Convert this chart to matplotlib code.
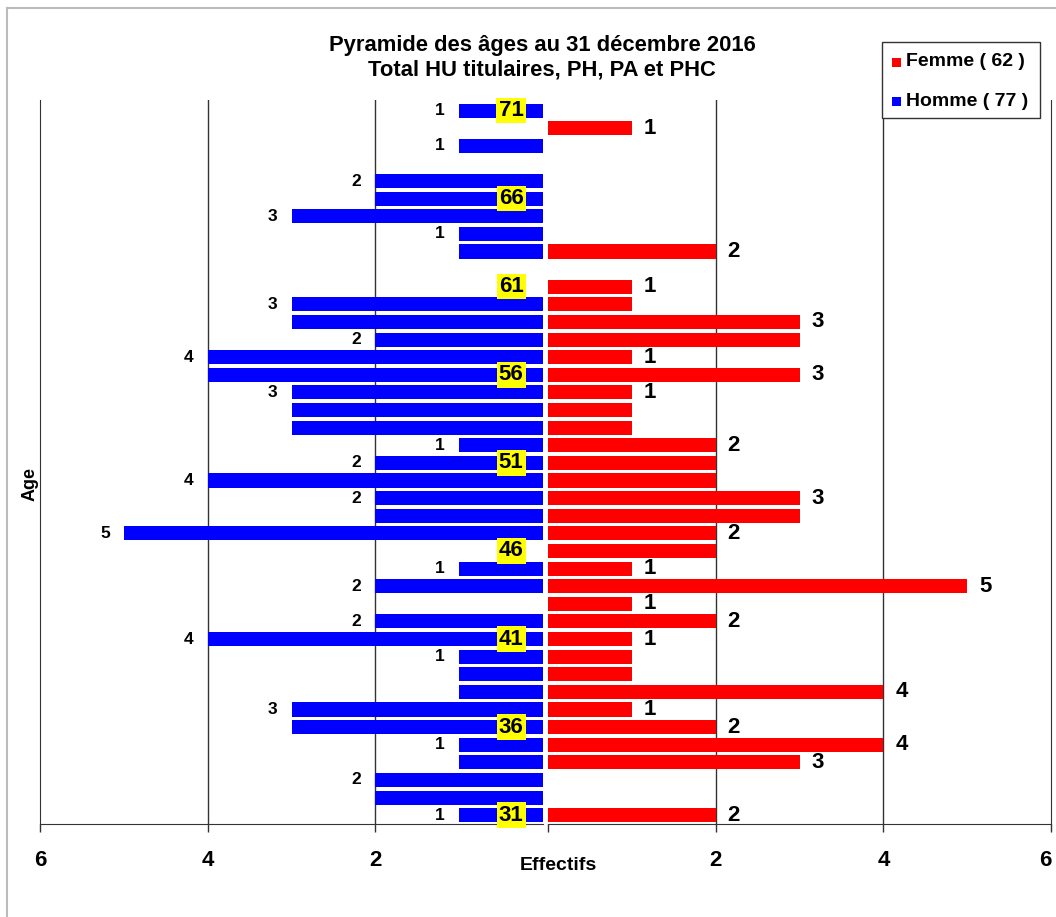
import matplotlib
matplotlib.use("Agg")
import matplotlib.pyplot as plt
from matplotlib.patches import Rectangle
from matplotlib.lines import Line2D

plt.rcParams['font.family'] = ['Liberation Sans', 'DejaVu Sans']
plt.rcParams['font.weight'] = 'bold'

# ---- data ----
ages = list(range(31, 72))
homme = [1, 2, 2, 1, 1, 3, 3, 1, 1, 1, 4, 2, 0, 2, 1, 0, 5, 2, 2, 4, 2, 1,
         3, 3, 3, 4, 4, 2, 3, 3, 0, 0, 1, 1, 3, 2, 2, 0, 1, 0, 1]
femme = [2, 0, 0, 3, 4, 2, 1, 4, 1, 1, 1, 2, 1, 5, 1, 2, 2, 3, 3, 2, 2, 2,
         1, 1, 1, 3, 1, 3, 3, 1, 1, 0, 2, 0, 0, 0, 0, 0, 0, 1, 0]
age_marks = [31, 36, 41, 46, 51, 56, 61, 66, 71]
title_lines = ["Pyramide des âges au 31 décembre 2016",
               "Total HU titulaires, PH, PA et PHC"]
legend_labels = ["Femme ( 62 )", "Homme ( 77 )"]
tick_vals = [2, 4, 6]

BLUE = '#0000FF'
RED = '#FF0000'
GRID = '#333333'

W, H = 1056, 917
fig = plt.figure(figsize=(W / 100, H / 100), dpi=100)


def fx(px):
    return px / W


def fy(py):
    return 1 - py / H


axL = fig.add_axes([fx(40), fy(824), 503 / W, 724 / H])
axR = fig.add_axes([fx(548), fy(824), 503 / W, 724 / H])

for ax in (axL, axR):
    ax.set_ylim(30.5, 71.6)
    ax.set_yticks([])
    for v in (2, 4):
        ax.axvline(v, color=GRID, lw=1, zorder=0)
    ax.spines['top'].set_visible(False)
    ax.spines['bottom'].set_color(GRID)
    ax.tick_params(axis='x', direction='out', length=6, width=1,
                   color=GRID, labelsize=16, pad=13)

axL.set_xlim(6, 0)
axR.set_xlim(0, 6)
axL.spines['right'].set_visible(False)
axL.spines['left'].set_color(GRID)
axR.spines['left'].set_visible(False)
axR.spines['right'].set_color(GRID)

axL.set_xticks(tick_vals)
axL.set_xticklabels([str(v) for v in tick_vals])
axR.set_xticks([0] + tick_vals)
axR.set_xticklabels([''] + [str(v) for v in tick_vals])
for lab in axL.get_xticklabels() + axR.get_xticklabels():
    lab.set_fontweight('bold')
axR.get_xticklabels()[-1].set_horizontalalignment('right')

axL.barh(ages, homme, height=0.8, color=BLUE, zorder=2)
axR.barh(ages, femme, height=0.8, color=RED, zorder=2)

# value labels where value differs from the row above
for i, a in enumerate(ages):
    above_h = homme[i + 1] if i + 1 < len(ages) else 0
    above_f = femme[i + 1] if i + 1 < len(ages) else 0
    if homme[i] and homme[i] != above_h:
        axL.annotate(str(homme[i]), (homme[i], a), xytext=(-19, 0),
                     textcoords='offset pixels', ha='center', va='center',
                     fontsize=12.5, fontweight='bold')
    if femme[i] and femme[i] != above_f:
        axR.annotate(str(femme[i]), (femme[i], a), xytext=(18, 0),
                     textcoords='offset pixels', ha='center', va='center',
                     fontsize=16, fontweight='bold')

for a in age_marks:
    axL.text(0.38, a, str(a), ha='center', va='center', fontsize=16,
             fontweight='bold', zorder=5,
             bbox=dict(boxstyle='square,pad=0.1', fc='#FFFF00', ec='none'))

# titles / axis labels
fig.text(fx(542), fy(45), title_lines[0], ha='center', va='center',
         fontsize=15.8, fontweight='bold')
fig.text(fx(542), fy(70), title_lines[1], ha='center', va='center',
         fontsize=15.8, fontweight='bold')
fig.text(fx(558), fy(866), "Effectifs", ha='center', va='center',
         fontsize=14, fontweight='bold')
fig.text(fx(30), fy(484), "Age", ha='center', va='center', rotation=90,
         fontsize=13, fontweight='bold')

# legend (manual)
fig.patches.append(Rectangle((fx(882), fy(118)), (1040 - 882) / W, 76 / H,
                             transform=fig.transFigure, fc='white',
                             ec='#333333', lw=1))
for yc, col, lab in ((62, RED, legend_labels[0]), (101, BLUE, legend_labels[1])):
    fig.patches.append(Rectangle((fx(892), fy(yc + 4.5)), 9 / W, 9 / H,
                                 transform=fig.transFigure, fc=col, ec='none'))
    fig.text(fx(906), fy(yc), lab, ha='left', va='center', fontsize=14,
             fontweight='bold')

# outer border (top and left)
fig.lines.append(Line2D([fx(7), 1], [fy(8), fy(8)], transform=fig.transFigure,
                        color='#BBBBBB', lw=1.5))
fig.lines.append(Line2D([fx(7), fx(7)], [fy(8), 0], transform=fig.transFigure,
                        color='#BBBBBB', lw=1.5))

fig.savefig("out.png", dpi=100)
